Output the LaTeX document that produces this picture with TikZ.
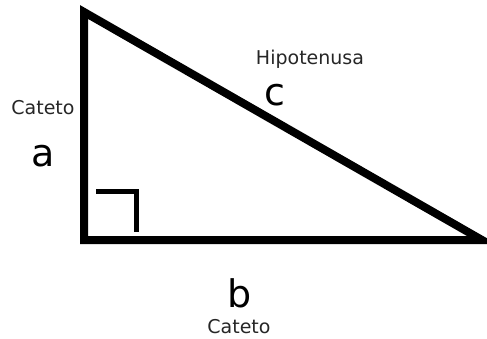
\documentclass[tikz,border=0pt]{standalone}
\usepackage{fontspec}
\setmainfont{DejaVu Sans}
\usetikzlibrary{positioning}

\begin{document}
\begin{tikzpicture}[
    x=1pt, y=-1pt,
    side/.style={draw, line width=8pt, line join=miter},
    small/.style={font=\fontsize{19}{19}\selectfont, text=black!85, inner sep=0pt},
    letter/.style={font=\fontsize{38}{38}\selectfont, inner sep=0pt}
]
    \useasboundingbox (0,0) rectangle (487,339);

    % Vertices
    \coordinate (A) at (84,12);
    \coordinate (B) at (84,240);
    \coordinate (C) at (482,240);

    % Triangle
    \draw[side] (A) -- (B) -- (C) -- cycle;

    % Right angle
    \coordinate (r1) at (96,192);
    \coordinate (r2) at (136,232);
    \draw[line width=5pt] (r1) -| (r2);

    % Labels
    \node[small] (catA) at (43,108) {Cateto};
    \node[letter] (sideA) at (43,156) {a};
    \node[small] (hip) at (310,59) {Hipotenusa};
    \node[letter] (sideC) at (275,95) {c};
    \node[letter] (sideB) at (240,293) {b};
    \node[small] (catB) at (239,327) {Cateto};

\end{tikzpicture}
\end{document}
